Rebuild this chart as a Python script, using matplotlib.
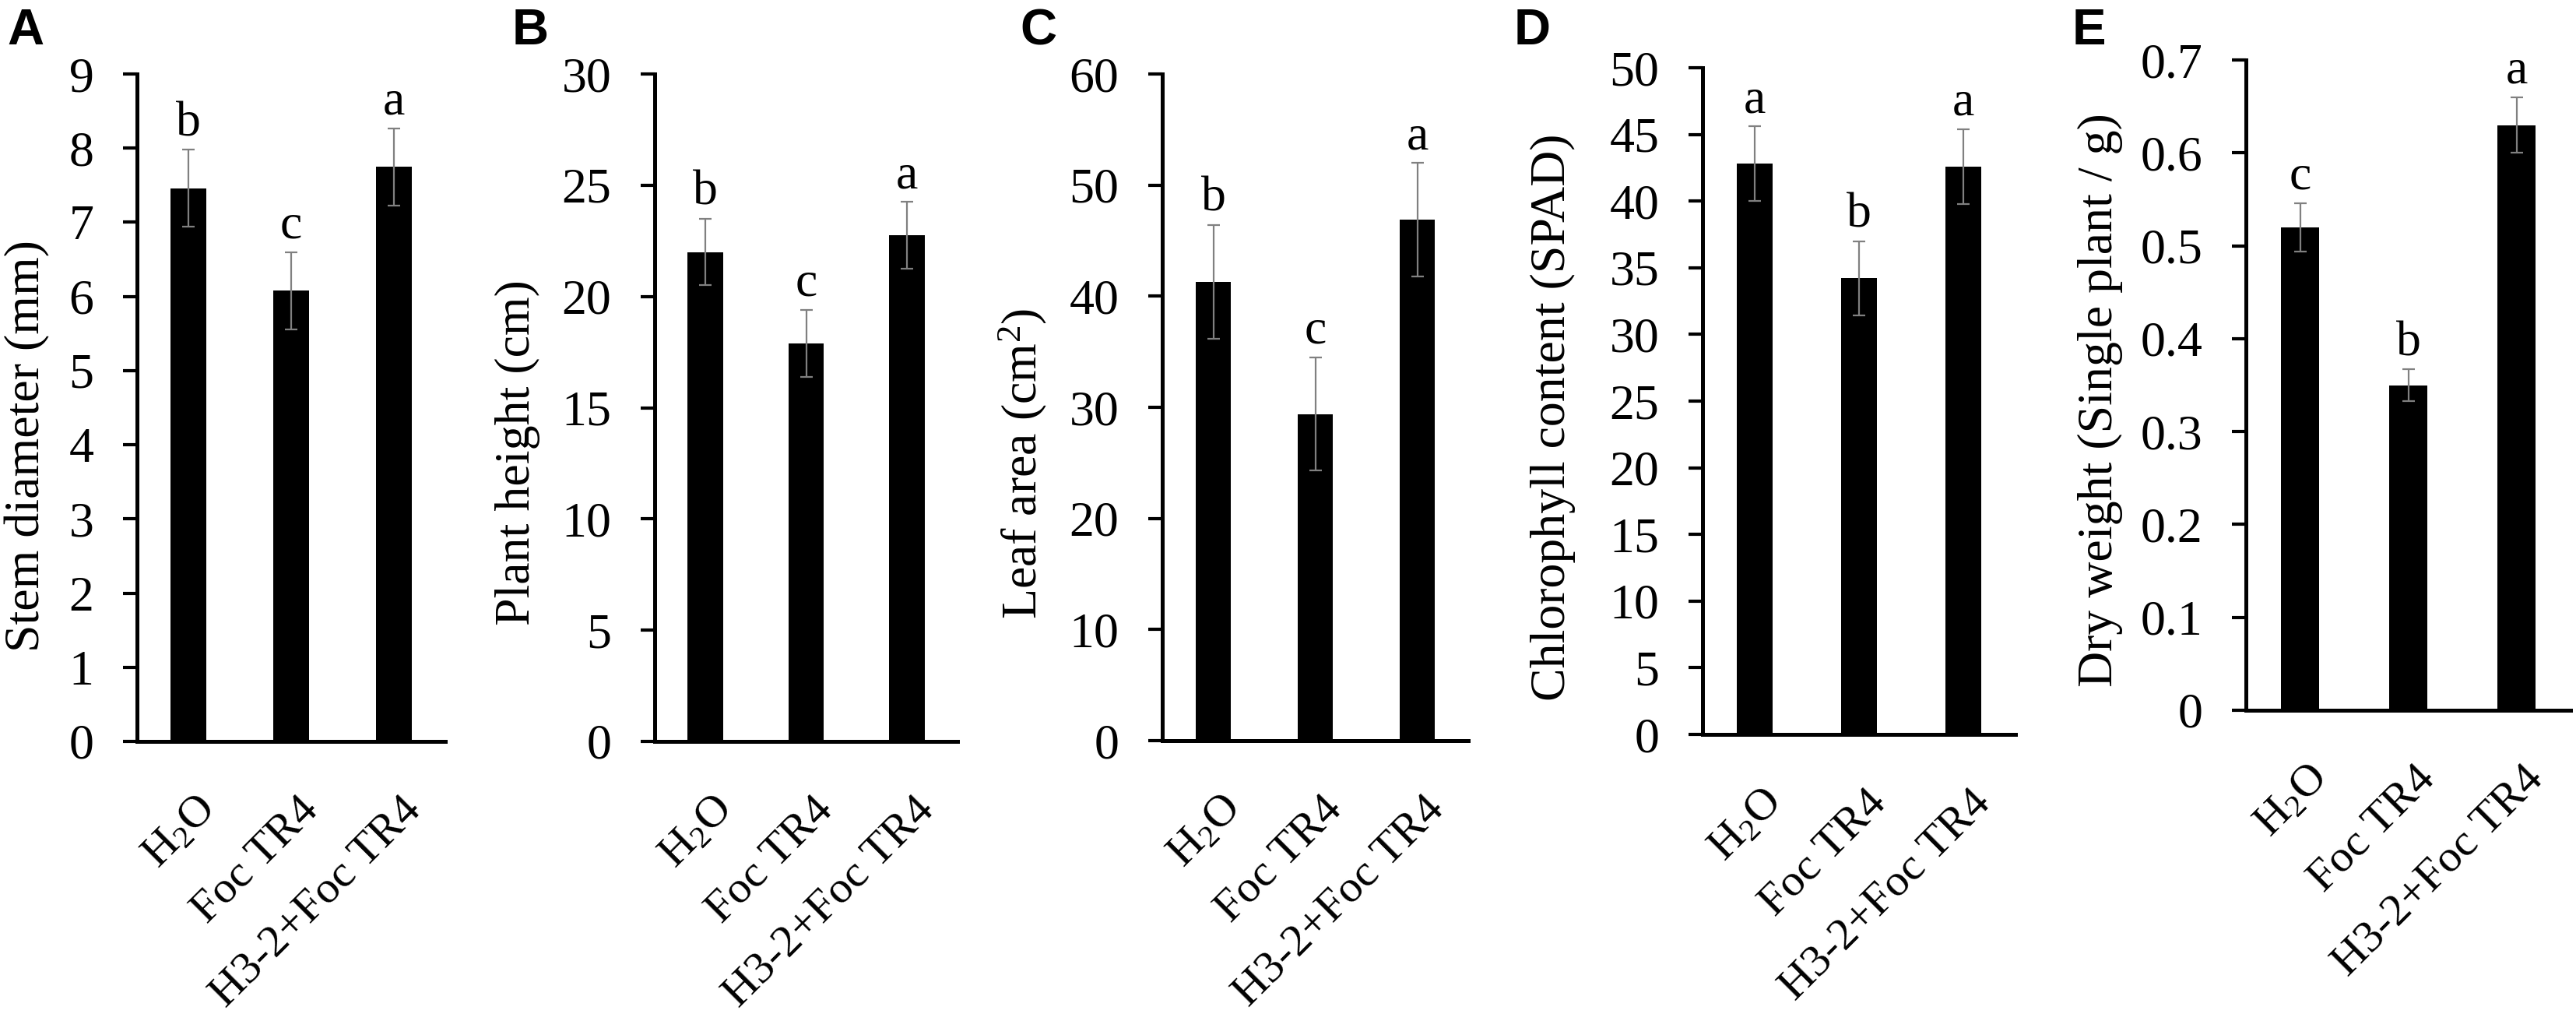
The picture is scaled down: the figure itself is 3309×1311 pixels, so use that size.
import numpy as np
import matplotlib.pyplot as plt
from matplotlib.ticker import MultipleLocator, FuncFormatter
from matplotlib.transforms import ScaledTranslation

plt.rcParams['font.family'] = 'Liberation Serif'
plt.rcParams['mathtext.fontset'] = 'custom'
plt.rcParams['mathtext.rm'] = 'Liberation Serif'
plt.rcParams['mathtext.default'] = 'regular'

groups = ['H$_2$O', 'Foc TR4', 'H3-2+Foc TR4']

stem = [7.46, 6.08, 7.75]
stem_err = [0.52, 0.52, 0.52]
stem_sig = ['b', 'c', 'a']

height = [22.0, 17.9, 22.75]
height_err = [1.5, 1.5, 1.5]
height_sig = ['b', 'c', 'a']

leaf = [41.3, 29.4, 46.9]
leaf_err = [5.1, 5.1, 5.1]
leaf_sig = ['b', 'c', 'a']

chl = [42.8, 34.2, 42.6]
chl_err = [2.8, 2.8, 2.8]
chl_sig = ['a', 'b', 'a']

dry = [0.52, 0.35, 0.63]
dry_err = [0.026, 0.017, 0.03]
dry_sig = ['c', 'b', 'a']

ylabels = ['Stem diameter (mm)', 'Plant height (cm)', 'Leaf area (cm$^2$)',
           'Chlorophyll content (SPAD)', 'Dry weight (Single plant / g)']
letters = ['A', 'B', 'C', 'D', 'E']
ymax = [9, 30, 60, 50, 0.7]
ystep = [1, 5, 10, 5, 0.1]

W, H = 3309, 1311
# axes boxes in pixels: left, right, top, bottom
boxes = [(176, 572, 95, 952), (841, 1230, 95, 952), (1493, 1886, 95, 951),
         (2187, 2589, 87, 943), (2885, 3302, 77, 912)]
ylab_x = [35, 665, 1314, 1995, 2698]
ylab_y = [573, 581, 595, 536, 514]
letter_x = [9, 658, 1310, 1945, 2662]

data = [(stem, stem_err, stem_sig), (height, height_err, height_sig),
        (leaf, leaf_err, leaf_sig), (chl, chl_err, chl_sig),
        (dry, dry_err, dry_sig)]

fig = plt.figure(figsize=(W / 100, H / 100), dpi=100)
x = np.arange(len(groups))
shift = ScaledTranslation(8 / 100, 0, fig.dpi_scale_trans)

for i, (vals, errs, sig) in enumerate(data):
    l, r, t, b = boxes[i]
    ax = fig.add_axes([l / W, 1 - b / H, (r - l) / W, (b - t) / H])
    ax.bar(x, vals, width=0.35, color='black', zorder=2)
    ax.errorbar(x, vals, yerr=errs, fmt='none', ecolor='#808080',
                elinewidth=1.6, capsize=5.5, capthick=1.6, zorder=3)
    for xi, v, e, s in zip(x, vals, errs, sig):
        ax.annotate(s, (xi, v + e), xytext=(0, 13), textcoords='offset points',
                    ha='center', va='baseline', fontsize=46)
    ax.set_xlim(-0.5, 2.5)
    ax.set_ylim(0, ymax[i])
    ax.yaxis.set_major_locator(MultipleLocator(ystep[i]))
    if i == 4:
        ax.yaxis.set_major_formatter(FuncFormatter(lambda v, p: '0' if abs(v) < 1e-9 else f'{v:.1f}'))
    for sp in ['top', 'right']:
        ax.spines[sp].set_visible(False)
    for sp in ['left', 'bottom']:
        ax.spines[sp].set_linewidth(3.6)
    ax.tick_params(axis='y', direction='out', length=13, width=3,
                   labelsize=46, pad=27)
    ax.tick_params(axis='x', length=0, labelsize=42, pad=44)
    ax.set_xticks(x)
    ax.set_xticklabels(groups, rotation=45, ha='right', rotation_mode='anchor')
    for lbl in ax.get_xticklabels():
        lbl.set_transform(lbl.get_transform() + shift)
    fig.text(ylab_x[i] / W, 1 - ylab_y[i] / H, ylabels[i], rotation=90,
             ha='center', va='center', fontsize=46)
    fig.text(letter_x[i] / W, 1 - 57 / H, letters[i], family='Liberation Sans',
             fontweight='bold', fontsize=47, ha='left', va='baseline')

fig.savefig('out.png', dpi=100)
